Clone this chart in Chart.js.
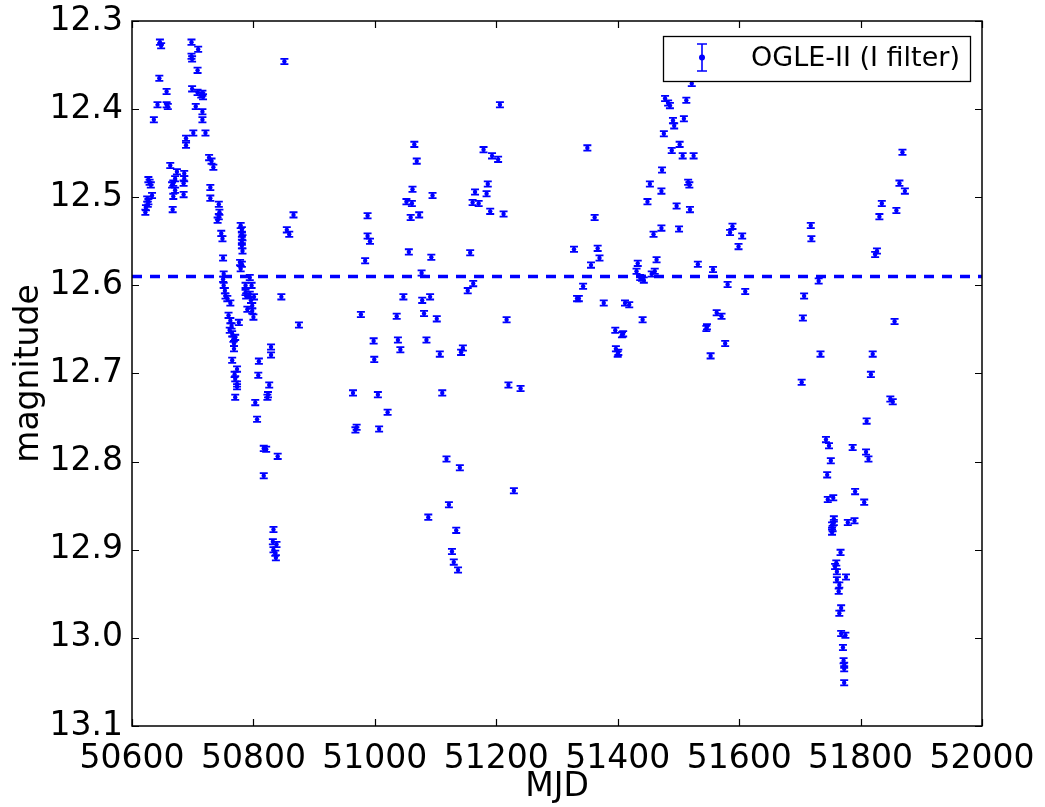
<!DOCTYPE html>
<html>
<head>
<meta charset="utf-8">
<script src="https://cdn.jsdelivr.net/npm/chart.js@4/dist/chart.umd.min.js"></script>
<style>
html,body{margin:0;padding:0;background:#fff;}
canvas{display:block;}
</style>
</head>
<body>
<canvas id="c" width="1045" height="807"></canvas>
<script>
// ---- Data ----
const mjd = [
50646,50648,50698,50709,50698,50699,50708,50851,50645,50657,50699,50708,50716,50717,50714,50642,50657,50659,50705,50716,
50716,50636,50701,50721,50689,50689,50727,50731,50734,50663,50674,50686,50671,50686,50668,50685,50666,50671,50668,50685,
50627,50629,50631,50633,50625,50627,50626,50623,50622,50667,50729,50729,50743,50744,50743,50741,50747,50749,50750,50751,
50750,50779,50781,50781,50782,50781,50781,50782,50778,50781,50779,50794,50751,50753,50754,50757,50762,50787,50797,50787,
50794,50788,50801,50796,50798,50790,50798,50800,50846,50866,50855,50859,50875,50759,50762,50764,50761,50765,50767,50770,
50768,50768,50765,50773,50769,50776,50829,50829,50809,50808,
50770,50773,50773,50770,50826,50824,50823,50803,50806,50817,50821,50840,50817,50833,50832,50838,50833,50836,50837,
51206,51065,51069,51179,51193,51203,51062,51095,51052,51061,51059,51073,51165,51186,51184,51161,51171,51190,51212,50988,
50988,50992,50984,51056,51093,51157,51077,51162,51153,51047,51078,51091,50977,51036,51081,51102,51217,50998,51038,51042,
51085,51107,51145,51142,50999,
51220,50964,51005,51111,51021,50970,50968,51007,51118,51140,51122,51088,51134,51127,51130,51137,51240,51229,
51350,51362,51328,51367,51370,51356,51343,51333,51336,51377,51412,51419,51441,51396,51407,51409,51397,51400,51401,51433,
51431,51437,51443,51440,51461,51456,51464,51459,51472,51501,51532,51557,51581,51610,51563,51571,51547,51546,51577,51553,
51589,51585,51605,51599,51449,51472,51453,51473,51497,51519,51516,51518,51476,51489,51502,51507,51525,51491,51493,51509,
51478,51483,51486,51513,51522,
51869,51864,51873,51835,51831,51859,51718,51719,51827,51824,51731,51707,51705,51856,51734,51820,51817,51703,51849,51853,
51810,51743,51748,51787,51809,51813,51751,51745,51791,51806,51746,51755,51756,51756,51753,51754,51753,51779,51790,51767,
51760,51758,51761,51776,51761,51765,51764,51768,51765,51768,51775,51771,51772,51773,51773,51773
];
const mag = [
12.324,12.328,12.324,12.332,12.340,12.343,12.356,12.346,12.365,12.380,12.377,12.381,12.382,12.386,12.384,12.395,12.395,12.397,12.397,12.403,
12.412,12.412,12.427,12.427,12.433,12.441,12.455,12.459,12.466,12.464,12.471,12.473,12.479,12.479,12.484,12.484,12.486,12.492,12.499,12.497,
12.480,12.483,12.486,12.498,12.502,12.505,12.508,12.512,12.517,12.514,12.489,12.501,12.508,12.517,12.522,12.526,12.541,12.547,12.569,12.587,
12.593,12.532,12.537,12.542,12.546,12.551,12.555,12.561,12.574,12.576,12.581,12.591,12.600,12.606,12.612,12.615,12.620,12.600,12.600,12.608,
12.610,12.612,12.613,12.617,12.623,12.627,12.629,12.636,12.613,12.520,12.537,12.542,12.645,12.634,12.640,12.646,12.651,12.655,12.661,12.659,
12.666,12.672,12.685,12.695,12.701,12.642,12.670,12.679,12.686,12.702,
12.706,12.712,12.715,12.727,12.713,12.724,12.727,12.733,12.752,12.785,12.786,12.794,12.816,12.877,12.891,12.894,12.900,12.904,12.909,
12.395,12.440,12.459,12.446,12.453,12.457,12.491,12.498,12.505,12.507,12.523,12.520,12.494,12.485,12.496,12.506,12.507,12.516,12.519,12.521,
12.544,12.550,12.572,12.562,12.568,12.563,12.586,12.598,12.606,12.613,12.617,12.613,12.633,12.635,12.632,12.638,12.639,12.663,12.662,12.673,
12.662,12.678,12.671,12.676,12.684,
12.713,12.722,12.724,12.722,12.744,12.761,12.764,12.763,12.797,12.807,12.849,12.863,12.878,12.902,12.914,12.923,12.717,12.833,
12.444,12.523,12.559,12.558,12.569,12.577,12.601,12.615,12.615,12.620,12.620,12.622,12.639,12.651,12.656,12.655,12.672,12.678,12.676,12.575,
12.584,12.591,12.594,12.592,12.584,12.587,12.571,12.542,12.535,12.536,12.576,12.582,12.599,12.607,12.631,12.635,12.647,12.649,12.666,12.680,
12.533,12.540,12.544,12.556,12.505,12.493,12.485,12.469,12.510,12.514,12.483,12.486,12.428,12.447,12.440,12.453,12.453,12.413,12.419,12.411,
12.388,12.393,12.396,12.390,12.371,
12.449,12.484,12.493,12.507,12.522,12.515,12.532,12.547,12.561,12.565,12.595,12.612,12.637,12.641,12.678,12.678,12.701,12.710,12.729,12.732,
12.754,12.775,12.782,12.784,12.789,12.797,12.799,12.815,12.834,12.846,12.843,12.841,12.865,12.869,12.872,12.876,12.880,12.869,12.867,12.903,
12.915,12.919,12.925,12.931,12.934,12.940,12.947,12.966,12.972,12.995,12.997,13.011,13.026,13.031,13.035,13.051
];
const MAG_ERR = 0.003;          // photometric error (half-length of bars)
const MEAN_MAG = 12.59;         // dashed reference level
const X_RANGE = [50600, 52000];
const Y_RANGE = [12.3, 13.1];
const X_STEP = 200;
const Y_STEP = 0.1;
const SERIES_LABEL = 'OGLE-II (I filter)';
const X_TITLE = 'MJD';
const Y_TITLE = 'magnitude';

const BLUE = '#0000ff';
const FONT = 'DejaVu Sans';

const points = mjd.map((x, i) => ({x: x, y: mag[i]}));

const errorBarPlugin = {
  id: 'errorBars',
  beforeDatasetsDraw(chart) {
    const ctx = chart.ctx, xs = chart.scales.x, ys = chart.scales.y;
    const a = chart.chartArea;
    ctx.save();
    ctx.beginPath();
    ctx.rect(a.left, a.top, a.right - a.left, a.bottom - a.top);
    ctx.clip();
    ctx.strokeStyle = BLUE;
    ctx.lineWidth = 1.8;
    for (let i = 0; i < mjd.length; i++) {
      const px = xs.getPixelForValue(mjd[i]);
      const y1 = ys.getPixelForValue(mag[i] - MAG_ERR);
      const y2 = ys.getPixelForValue(mag[i] + MAG_ERR);
      ctx.beginPath();
      ctx.moveTo(px, y1); ctx.lineTo(px, y2);
      ctx.moveTo(px - 4, y1); ctx.lineTo(px + 4, y1);
      ctx.moveTo(px - 4, y2); ctx.lineTo(px + 4, y2);
      ctx.stroke();
    }
    ctx.restore();
  }
};

const framePlugin = {
  id: 'frame',
  afterDraw(chart) {
    const ctx = chart.ctx, xs = chart.scales.x, ys = chart.scales.y;
    const a = chart.chartArea;
    ctx.save();
    ctx.strokeStyle = '#000';
    ctx.lineWidth = 1.5;
    ctx.strokeRect(a.left, a.top, a.right - a.left, a.bottom - a.top);
    ctx.lineWidth = 1.2;
    const TL = 7;
    ctx.beginPath();
    xs.ticks.forEach(t => {
      const px = Math.round(xs.getPixelForValue(t.value)) + 0.5;
      ctx.moveTo(px, a.bottom); ctx.lineTo(px, a.bottom - TL);
      ctx.moveTo(px, a.top); ctx.lineTo(px, a.top + TL);
    });
    ys.ticks.forEach(t => {
      const py = Math.round(ys.getPixelForValue(t.value)) + 0.5;
      ctx.moveTo(a.left, py); ctx.lineTo(a.left + TL, py);
      ctx.moveTo(a.right, py); ctx.lineTo(a.right - TL, py);
    });
    ctx.stroke();

    // legend
    const bx = 663, by = 36, bw = 307, bh = 45;
    ctx.fillStyle = '#fff';
    ctx.fillRect(bx, by, bw, bh);
    ctx.strokeStyle = '#000';
    ctx.lineWidth = 1.3;
    ctx.strokeRect(bx + 0.5, by + 0.5, bw, bh);
    const ix = 702, iy1 = 44, iy2 = 71, iyc = 57.5;
    ctx.strokeStyle = BLUE;
    ctx.lineWidth = 1.6;
    ctx.beginPath();
    ctx.moveTo(ix, iy1); ctx.lineTo(ix, iy2);
    ctx.moveTo(ix - 5, iy1); ctx.lineTo(ix + 5, iy1);
    ctx.moveTo(ix - 5, iy2); ctx.lineTo(ix + 5, iy2);
    ctx.stroke();
    ctx.fillStyle = BLUE;
    ctx.beginPath(); ctx.arc(ix, iyc, 3, 0, Math.PI * 2); ctx.fill();
    ctx.fillStyle = '#000';
    ctx.font = '27px "' + FONT + '"';
    ctx.textAlign = 'left';
    ctx.textBaseline = 'middle';
    ctx.fillText(SERIES_LABEL, 751, 59);
    ctx.restore();
  }
};

new Chart(document.getElementById('c'), {
  data: {
    datasets: [
      {
        type: 'scatter',
        label: SERIES_LABEL,
        data: points,
        backgroundColor: BLUE,
        borderColor: BLUE,
        pointRadius: 2.2,
        pointBorderWidth: 0,
        order: 1
      },
      {
        type: 'line',
        label: 'mean',
        data: [{x: X_RANGE[0], y: MEAN_MAG}, {x: X_RANGE[1], y: MEAN_MAG}],
        borderColor: BLUE,
        borderWidth: 3.5,
        borderDash: [10, 8],
        pointRadius: 0,
        fill: false,
        order: 0
      }
    ]
  },
  options: {
    responsive: false,
    animation: false,
    devicePixelRatio: 1,
    layout: {padding: {left: 0, top: 21, right: 63, bottom: 0}},
    plugins: {legend: {display: false}, tooltip: {enabled: false}},
    scales: {
      x: {
        type: 'linear',
        min: X_RANGE[0], max: X_RANGE[1],
        grid: {display: false, drawTicks: false},
        border: {display: false},
        ticks: {stepSize: X_STEP, color: '#000', font: {family: FONT, size: 33}, padding: 14, maxRotation: 0, autoSkip: false,
                callback: v => String(v)},
        title: {display: true, text: X_TITLE, color: '#000', font: {family: FONT, size: 33}, padding: {top: 0, bottom: 0}},
        afterFit(s) { s.height = 81; s.paddingLeft = 0; s.paddingRight = 0; }
      },
      y: {
        type: 'linear',
        reverse: true,
        min: Y_RANGE[0], max: Y_RANGE[1],
        grid: {display: false, drawTicks: false},
        border: {display: false},
        ticks: {stepSize: Y_STEP, color: '#000', font: {family: FONT, size: 33}, padding: 9,
                callback: v => v.toFixed(1)},
        title: {display: true, text: Y_TITLE, color: '#000', font: {family: FONT, size: 33}, padding: {top: 10, bottom: 0}},
        afterFit(s) { s.width = 132; s.paddingTop = 0; s.paddingBottom = 0; }
      }
    }
  },
  plugins: [errorBarPlugin, framePlugin]
});
</script>
</body>
</html>
